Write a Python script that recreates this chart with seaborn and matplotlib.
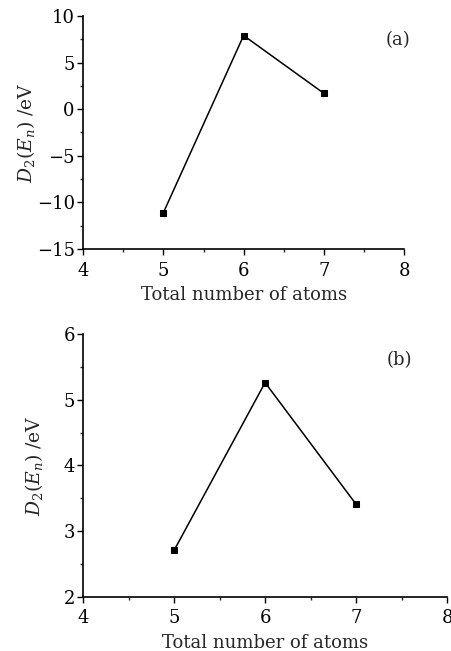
import matplotlib
matplotlib.use('Agg')
import matplotlib.pyplot as plt
import seaborn as sns
import pandas as pd
from matplotlib.ticker import MultipleLocator

# data
atoms = [5, 6, 7]
d2_a = [-11.1, 7.9, 1.7]
d2_b = [2.71, 5.26, 3.41]

sns.set_style('ticks')
plt.rcParams['font.family'] = ['DejaVu Serif']
plt.rcParams['mathtext.fontset'] = 'dejavuserif'
plt.rcParams['xtick.direction'] = 'out'
plt.rcParams['ytick.direction'] = 'out'

fig = plt.figure(figsize=(4.52, 6.51), dpi=100)
ax1 = fig.add_axes([0.184, 0.6175, 0.710, 0.358])
ax2 = fig.add_axes([0.184, 0.083, 0.805, 0.404])

df_a = pd.DataFrame({'atoms': atoms, 'D2': d2_a})
df_b = pd.DataFrame({'atoms': atoms, 'D2': d2_b})

panels = [(ax1, df_a, (-15, 10), 5, '(a)', 0.98, 0.895, -0.143),
          (ax2, df_b, (2, 6), 1, '(b)', 0.868, 0.90, -0.104)]

for ax, df, lim, step, tag, tx, ty, ylx in panels:
    sns.lineplot(x='atoms', y='D2', data=df, ax=ax, color='black', lw=1.1,
                 marker='s', markersize=5, markeredgecolor='black')
    ax.set_xlim(4, 8)
    ax.set_ylim(*lim)
    ax.xaxis.set_major_locator(MultipleLocator(1))
    ax.xaxis.set_minor_locator(MultipleLocator(0.5))
    ax.yaxis.set_major_locator(MultipleLocator(step))
    ax.yaxis.set_minor_locator(MultipleLocator(step / 2))
    ax.tick_params(which='major', length=4, width=1, labelsize=13, colors='black', pad=2)
    ax.tick_params(axis='x', which='major', pad=5)
    ax.tick_params(which='minor', length=2.5, width=1)
    for s in ['left', 'bottom']:
        ax.spines[s].set_linewidth(1.2)
        ax.spines[s].set_color('black')
    sns.despine(ax=ax)
    ax.set_xlabel('Total number of atoms', fontsize=13, labelpad=5)
    ax.set_ylabel(r'$D_2(E_n)$ /eV', fontsize=13.5)
    ax.yaxis.set_label_coords(ylx, 0.5)
    ax.text(tx, ty, tag, transform=ax.transAxes, ha='center', va='center', fontsize=13)

fig.savefig('out.png', dpi=100)
